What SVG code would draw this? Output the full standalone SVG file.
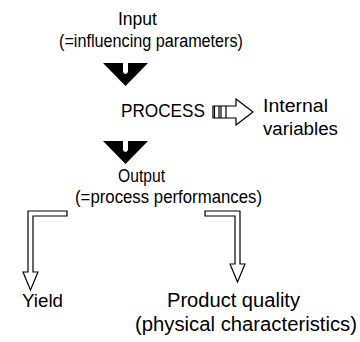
<svg xmlns="http://www.w3.org/2000/svg" width="360" height="342" viewBox="0 0 360 342">
<style>
text{font-family:"Liberation Sans",Arial,sans-serif;font-size:18px;fill:#000;text-anchor:middle}
.big{font-size:19.5px}
.tri{fill:#000}
.notch{fill:#fff}
.hollow{fill:#fff;stroke:#000;stroke-width:1.2;stroke-linejoin:miter}
.ln{stroke:#000;stroke-width:1.2;fill:none}
</style>
<rect width="360" height="342" fill="#fff"/>
<g id="input">
<text x="137.5" y="25" textLength="39" lengthAdjust="spacingAndGlyphs">Input</text>
<text x="151" y="47" textLength="184" lengthAdjust="spacingAndGlyphs">(=influencing parameters)</text>
</g>
<g id="process">
<text x="163" y="117" textLength="84" lengthAdjust="spacingAndGlyphs">PROCESS</text>
</g>
<g id="internal">
<text x="263" y="112" style="text-anchor:start" textLength="65" lengthAdjust="spacingAndGlyphs">Internal</text>
<text x="263" y="135" style="text-anchor:start" textLength="75" lengthAdjust="spacingAndGlyphs">variables</text>
</g>
<g id="output">
<text x="141.5" y="182" textLength="47" lengthAdjust="spacingAndGlyphs">Output</text>
<text x="168.5" y="203" textLength="187" lengthAdjust="spacingAndGlyphs">(=process performances)</text>
</g>
<g id="yield">
<text x="42.5" y="307" textLength="41" lengthAdjust="spacingAndGlyphs">Yield</text>
</g>
<g id="quality">
<text class="big" x="233.5" y="307" textLength="133" lengthAdjust="spacingAndGlyphs">Product quality</text>
<text class="big" x="246" y="331" textLength="222" lengthAdjust="spacingAndGlyphs">(physical characteristics)</text>
</g>
<g id="connectors">
<g id="down1">
<path class="tri" d="M103,63 L148,63 L125.5,86 Z"/>
<path class="notch" d="M123,63 L123,72 Q125.5,76 128,72 L128,63 Z"/>
</g>
<g id="down2">
<path class="tri" d="M103,141 L148,141 L125.5,164 Z"/>
<path class="notch" d="M123,141 L123,150 Q125.5,154 128,150 L128,141 Z"/>
</g>
<g id="side">
<path class="hollow" d="M213,106 L236,106 L236,99 L253,112 L236,125 L236,118 L213,118 Z"/>
<path class="ln" d="M214.5,106 V118 M219,106 V118 M221,106 V118 M226,106 V118"/>
</g>
<path class="hollow" d="M67,211 L28,211 L28,272 L23,272 L30.5,290 L38,272 L33,272 L33,216 L67,216 Z"/>
<path class="hollow" d="M205,211 L240,211 L240,264 L245,264 L237.5,282 L230,264 L235,264 L235,216 L205,216 Z"/>
</g>
</svg>
